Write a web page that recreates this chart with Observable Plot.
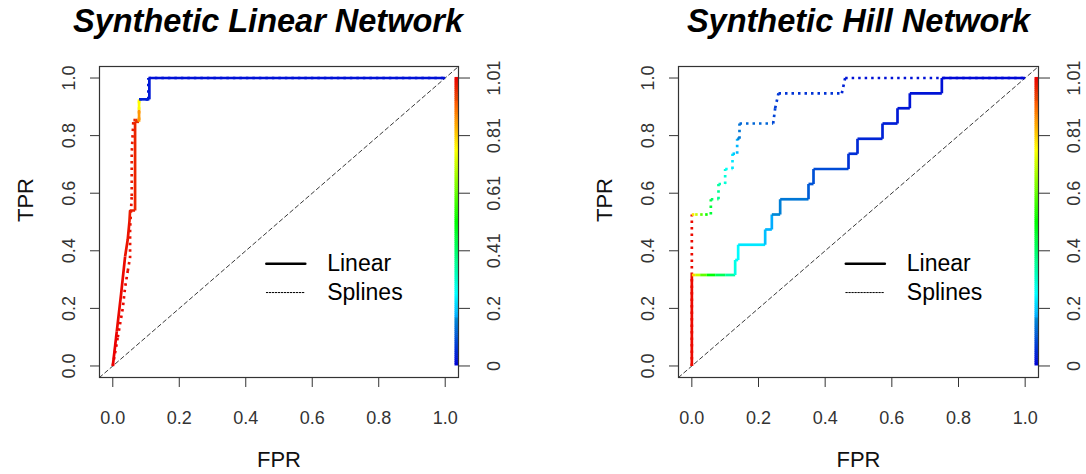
<!DOCTYPE html>
<html>
<head>
<meta charset="utf-8">
<script src="https://cdn.jsdelivr.net/npm/d3@7"></script>
<script src="https://cdn.jsdelivr.net/npm/@observablehq/plot@0.6"></script>
<style>
  html, body { margin: 0; padding: 0; background: #fff; }
  #wrap { display: flex; width: 1086px; height: 474px; }
  #wrap svg { display: block; }
</style>
</head>
<body>
<div id="wrap"><div id="left"></div><div id="right"></div></div>
<script>
// ---------- data ----------
const titles = ["Synthetic Linear Network", "Synthetic Hill Network"];
const legendLabels = ["Linear", "Splines"];
const xTicks = [0, 0.2, 0.4, 0.6, 0.8, 1.0];
const xTickLabels = ["0.0", "0.2", "0.4", "0.6", "0.8", "1.0"];
const yTicks = [0, 0.2, 0.4, 0.6, 0.8, 1.0];
const yTickLabels = ["0.0", "0.2", "0.4", "0.6", "0.8", "1.0"];
const cutoffLabelsLinearNet = ["0", "0.2", "0.41", "0.61", "0.81", "1.01"];
const cutoffLabelsHillNet = ["0", "0.2", "0.4", "0.6", "0.81", "1.01"];
const cutoffMax = 1.01;

// Synthetic Linear Network – Linear model (solid)
const linNetLinearFpr = [0, 0.012, 0.025, 0.037, 0.045, 0.05, 0.052, 0.067, 0.067, 0.079, 0.079, 0.079, 0.11, 0.11, 1.0];
const linNetLinearTpr = [0, 0.12, 0.25, 0.38, 0.44, 0.5, 0.54, 0.54, 0.848, 0.848, 0.89, 0.926, 0.926, 1.0, 1.0];
const linNetLinearCut = [1.01, 1.0, 1.0, 0.99, 0.99, 0.98, 0.98, 0.97, 0.96, 0.86, 0.76, 0.04, 0.03, 0.02, 0];
// Synthetic Linear Network – Splines model (dotted)
const linNetSplineFpr = [0, 0.015, 0.03, 0.037, 0.045, 0.052, 0.052, 0.057, 0.057, 0.062, 0.067, 0.079, 0.079, 0.079, 0.107, 0.107, 1.0];
const linNetSplineTpr = [0, 0.1, 0.2, 0.273, 0.33, 0.377, 0.477, 0.59, 0.74, 0.854, 0.854, 0.854, 0.89, 0.926, 0.926, 1.0, 1.0];
const linNetSplineCut = [1.01, 1.0, 1.0, 1.0, 0.99, 0.99, 0.99, 0.98, 0.98, 0.97, 0.96, 0.86, 0.76, 0.04, 0.03, 0.02, 0];

// Synthetic Hill Network – Linear model (solid)
const hillNetLinearFpr = [0, 0, 0.01, 0.025, 0.045, 0.07, 0.1, 0.13, 0.13, 0.139, 0.139, 0.22, 0.22, 0.24, 0.24, 0.265, 0.265, 0.35, 0.35, 0.365, 0.365, 0.47, 0.47, 0.497, 0.497, 0.572, 0.572, 0.617, 0.617, 0.654, 0.654, 0.75, 0.75, 1.0];
const hillNetLinearTpr = [0, 0.316, 0.316, 0.316, 0.316, 0.316, 0.316, 0.316, 0.368, 0.368, 0.421, 0.421, 0.474, 0.474, 0.526, 0.526, 0.579, 0.579, 0.632, 0.632, 0.684, 0.684, 0.737, 0.737, 0.789, 0.789, 0.842, 0.842, 0.895, 0.895, 0.947, 0.947, 1.0, 1.0];
const hillNetLinearCut = [1.0, 0.8, 0.7, 0.6, 0.5, 0.42, 0.35, 0.28, 0.26, 0.25, 0.23, 0.19, 0.18, 0.17, 0.16, 0.15, 0.14, 0.11, 0.1, 0.095, 0.09, 0.06, 0.055, 0.05, 0.045, 0.04, 0.035, 0.03, 0.028, 0.025, 0.022, 0.02, 0.01, 0];
// Synthetic Hill Network – Splines model (dotted)
const hillNetSplineFpr = [0, 0, 0.01, 0.025, 0.04, 0.057, 0.057, 0.08, 0.08, 0.1, 0.1, 0.122, 0.122, 0.136, 0.136, 0.143, 0.143, 0.244, 0.25, 0.26, 0.45, 0.46, 1.0];
const hillNetSplineTpr = [0, 0.526, 0.526, 0.526, 0.526, 0.526, 0.579, 0.579, 0.632, 0.632, 0.684, 0.684, 0.737, 0.737, 0.789, 0.789, 0.842, 0.842, 0.895, 0.947, 0.947, 1.0, 1.0];
const hillNetSplineCut = [1.0, 0.78, 0.7, 0.6, 0.52, 0.45, 0.4, 0.36, 0.32, 0.29, 0.26, 0.23, 0.2, 0.18, 0.16, 0.14, 0.12, 0.08, 0.07, 0.06, 0.04, 0.02, 0];

// ---------- helpers ----------
const rows = (fpr, tpr, cut) => fpr.map((f, i) => ({fpr: f, tpr: tpr[i], cut: cut[i]}));
const rainbow = c => {
  const h = 240 * (1 - Math.max(0, Math.min(1, c / cutoffMax)));
  // slightly deeper blues/reds as in the reference rendering
  const l = h > 200 ? 0.42 : (h < 20 ? 0.46 : 0.5);
  return d3.hsl(h, 1, l).formatHex();
};
const domain = [-0.04, 1.04];
const FONT = "'Liberation Sans', Arial, Helvetica, sans-serif";
const colorBar = d3.range(0, 150).map(i => ({y1: i / 150, y2: (i + 1.3) / 150, cut: (i + 0.5) / 150 * cutoffMax}));

function panel({title, solid, dotted, cutLabels, marginLeft, marginRight, titleDx}) {
  return Plot.plot({
    width: 543,
    height: 474,
    marginTop: 66,
    marginBottom: 97,
    marginLeft,
    marginRight,
    x: {domain, axis: null},
    y: {domain, axis: null},
    style: {fontFamily: FONT, background: "#fff", overflow: "visible"},
    marks: [
      // diagonal reference
      Plot.line([[domain[0], domain[0]], [domain[1], domain[1]]], {stroke: "#222", strokeWidth: 0.9, strokeDasharray: "4,3"}),
      // colour key
      Plot.ruleX(colorBar, {x: () => domain[1], y1: "y1", y2: "y2", stroke: d => rainbow(d.cut), strokeWidth: 4, dx: -2, strokeLinecap: "butt"}),
      // ROC curves
      Plot.line(dotted, {x: "fpr", y: "tpr", z: null, stroke: d => rainbow(d.cut), strokeWidth: 2.7, strokeDasharray: "2.5,4", strokeLinecap: "butt"}),
      Plot.line(solid, {x: "fpr", y: "tpr", z: null, stroke: d => rainbow(d.cut), strokeWidth: 2.7, strokeLinejoin: "miter", strokeLinecap: "butt"}),
      // box and ticks
      Plot.frame({stroke: "#333", strokeWidth: 1.2}),
      Plot.axisX({ticks: xTicks, tickSize: 10, tickFormat: () => "", anchor: "bottom", label: null, stroke: "#333"}),
      Plot.axisY({ticks: yTicks, tickSize: 9, tickFormat: () => "", anchor: "left", label: null, stroke: "#333"}),
      Plot.axisY({ticks: yTicks, tickSize: 11, tickFormat: () => "", anchor: "right", label: null, stroke: "#333"}),
      // tick labels
      Plot.text(xTicks, {x: d => d, frameAnchor: "bottom", text: (d, i) => xTickLabels[i], dy: 46, lineAnchor: "bottom", fontSize: 18, fill: "#333"}),
      Plot.text(yTicks, {y: d => d, frameAnchor: "left", text: (d, i) => yTickLabels[i], rotate: -90, dx: -25, lineAnchor: "bottom", textAnchor: "middle", fontSize: 18, fill: "#333"}),
      Plot.text(yTicks, {y: d => d, frameAnchor: "right", text: (d, i) => cutLabels[i], rotate: -90, dx: 29, lineAnchor: "top", textAnchor: "middle", fontSize: 18, fill: "#333"}),
      // axis titles
      Plot.text(["FPR"], {frameAnchor: "bottom", text: d => d, dy: 89, lineAnchor: "bottom", fontSize: 22, fill: "#111"}),
      Plot.text(["TPR"], {frameAnchor: "left", text: d => d, rotate: -90, dx: -67, lineAnchor: "bottom", fontSize: 22, fill: "#111"}),
      // title
      Plot.text([title], {frameAnchor: "top", text: d => d, dy: -35, dx: titleDx, lineAnchor: "bottom", fontSize: 32.5, fontWeight: "bold", fontStyle: "italic", fill: "#000"}),
      // legend
      Plot.line([[0.462, 0.355], [0.579, 0.355]], {stroke: "#000", strokeWidth: 2.6}),
      Plot.line([[0.462, 0.255], [0.579, 0.255]], {stroke: "#000", strokeWidth: 1, strokeDasharray: "1.5,1.5"}),
      Plot.text(legendLabels, {x: 0.645, y: (d, i) => i === 0 ? 0.355 : 0.255, text: d => d, textAnchor: "start", lineAnchor: "middle", fontSize: 23, fill: "#000"})
    ]
  });
}

document.getElementById("left").append(panel({
  title: titles[0],
  solid: rows(linNetLinearFpr, linNetLinearTpr, linNetLinearCut),
  dotted: rows(linNetSplineFpr, linNetSplineTpr, linNetSplineCut),
  cutLabels: cutoffLabelsLinearNet,
  marginLeft: 99, marginRight: 85, titleDx: -11
}));
document.getElementById("right").append(panel({
  title: titles[1],
  solid: rows(hillNetLinearFpr, hillNetLinearTpr, hillNetLinearCut),
  dotted: rows(hillNetSplineFpr, hillNetSplineTpr, hillNetSplineCut),
  cutLabels: cutoffLabelsHillNet,
  marginLeft: 135, marginRight: 48, titleDx: 0
}));
</script>
</body>
</html>
